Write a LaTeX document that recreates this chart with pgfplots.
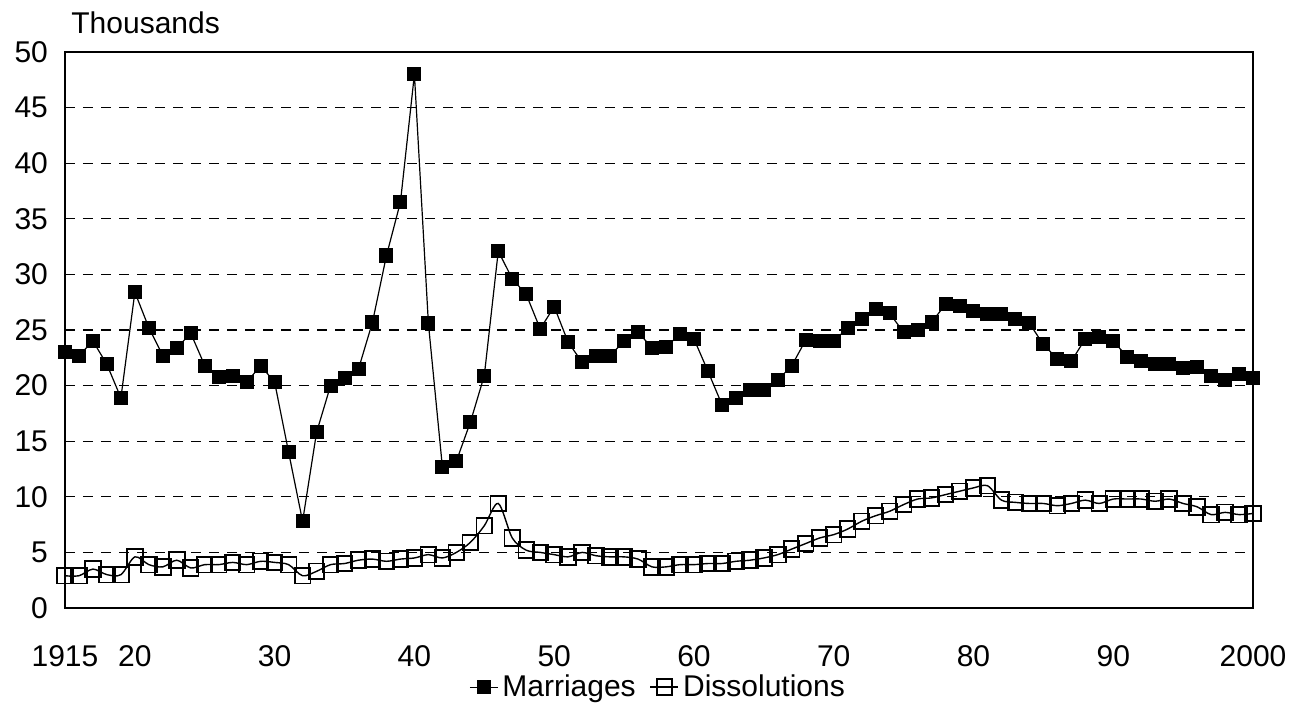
\documentclass[border=0pt]{standalone}
\usepackage{fontspec}
\setmainfont{Liberation Sans}
\usepackage{pgfplots}
\pgfplotsset{compat=1.18}
\usepackage{pgfplotstable}
\pgfplotstableread{
year mar dis
1915 23.0 2.9
1916 22.7 2.9
1917 24.0 3.5
1918 21.9 3.0
1919 18.9 3.0
1920 28.4 4.6
1921 25.2 3.9
1922 22.7 3.7
1923 23.4 4.3
1924 24.7 3.6
1925 21.8 3.9
1926 20.8 3.9
1927 20.9 4.1
1928 20.3 3.9
1929 21.8 4.2
1930 20.3 4.1
1931 14.0 3.9
1932 7.8 2.9
1933 15.8 3.3
1934 20.0 3.9
1935 20.7 4.0
1936 21.5 4.3
1937 25.7 4.4
1938 31.7 4.2
1939 36.5 4.4
1940 48.0 4.5
1941 25.6 4.8
1942 12.7 4.5
1943 13.2 5.0
1944 16.7 5.9
1945 20.9 7.4
1946 32.1 9.4
1947 29.6 6.3
1948 28.2 5.2
1949 25.1 5.0
1950 27.1 4.8
1951 23.9 4.6
1952 22.1 5.0
1953 22.7 4.7
1954 22.7 4.6
1955 24.0 4.6
1956 24.8 4.4
1957 23.4 3.7
1958 23.5 3.7
1959 24.6 3.9
1960 24.2 3.9
1961 21.3 4.0
1962 18.3 4.0
1963 18.9 4.2
1964 19.6 4.3
1965 19.6 4.5
1966 20.5 4.8
1967 21.8 5.3
1968 24.1 5.8
1969 24.0 6.3
1970 24.0 6.6
1971 25.2 7.1
1972 26.0 7.8
1973 26.9 8.3
1974 26.5 8.7
1975 24.8 9.3
1976 25.0 9.8
1977 25.7 9.9
1978 27.3 10.2
1979 27.2 10.5
1980 26.7 10.8
1981 26.4 11.0
1982 26.4 9.7
1983 26.0 9.5
1984 25.6 9.4
1985 23.7 9.4
1986 22.4 9.2
1987 22.2 9.4
1988 24.2 9.7
1989 24.4 9.4
1990 24.0 9.8
1991 22.6 9.8
1992 22.2 9.8
1993 21.9 9.6
1994 21.9 9.8
1995 21.6 9.4
1996 21.7 9.1
1997 20.9 8.4
1998 20.5 8.6
1999 21.0 8.4
2000 20.7 8.5
}\datatable
\begin{document}
\begin{tikzpicture}
\begin{axis}[
  scale only axis,
  width=594pt, height=278pt,
  xmin=1915, xmax=2000, ymin=0, ymax=50,
  xtick={1915,1920,1930,1940,1950,1960,1970,1980,1990,2000},
  xticklabels={1915,20,30,40,50,60,70,80,90,2000},
  ytick={0,5,...,50},
  major tick length=0pt,
  /pgf/number format/assume math mode=true,
  tick label style={font=\fontsize{15}{17}\selectfont},
  xticklabel style={yshift=-15pt},
  yticklabel style={xshift=-5pt},
  ymajorgrids,
  grid style={dashed, black, line width=0.6pt, dash pattern=on 5pt off 4pt},
  axis line style={line width=1pt},
  clip=false,
  legend style={at={(0.5,-0.105)}, anchor=north, draw=none, font=\fontsize{15}{17}\selectfont, legend columns=-1, /tikz/every even column/.append style={column sep=5pt}},
  legend image code/.code={\draw[#1] (0pt,0pt) -- (14pt,0pt); \path[#1, only marks] plot coordinates {(7pt,0pt)};},
]
\addplot[black, line width=0.6pt, mark=square*, mark size=3.2pt, mark options={solid, fill=black}] table[x=year, y=mar] {\datatable};
\addlegendentry{Marriages}
\addplot[black, line width=0.7pt, smooth, mark=square, mark size=3.9pt, mark options={solid, line width=0.9pt, fill=white}] table[x=year, y=dis] {\datatable};
\addlegendentry{Dissolutions}
\node[anchor=south west, font=\fontsize{15}{17}\selectfont, inner sep=0pt] at ([xshift=3pt, yshift=9pt]current axis.north west) {Thousands};
\end{axis}
\pgfresetboundingbox
\path ([xshift=-32.5pt, yshift=-52.5pt]current axis.south west) rectangle ([xshift=22pt, yshift=26pt]current axis.north east);
\end{tikzpicture}
\end{document}
